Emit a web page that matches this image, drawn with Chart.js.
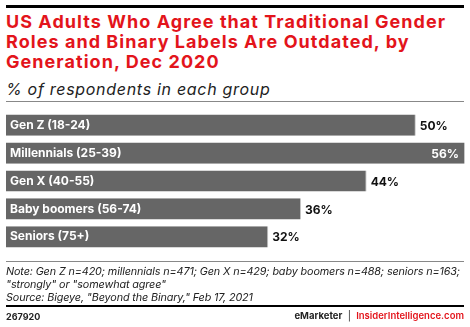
<!DOCTYPE html>
<html>
<head>
<meta charset="utf-8">
<script src="https://cdn.jsdelivr.net/npm/chart.js@4"></script>
<style>
  body { margin: 0; width: 470px; height: 327px; background: #fff; font-family: Inter, "Noto Sans", sans-serif; position: relative; overflow: hidden; }
  .rule-top { position: absolute; left: 6px; top: 5px; width: 458px; height: 3px; background: #000; }
  .title { position: absolute; left: 6px; top: 12px; white-space: nowrap; color: #e3141b; font-weight: 700; font-size: 18px; line-height: 20px; letter-spacing: 1.05px; }
  .subtitle { position: absolute; left: 6px; top: 79px; white-space: nowrap; color: #222; font-style: italic; font-size: 16px; line-height: 20px; letter-spacing: 0.7px; }
  .rule-sub { position: absolute; left: 6px; top: 101px; width: 458px; height: 1px; background: #888; }
  .chart-box { position: absolute; left: 0; top: 100px; width: 470px; height: 162px; }
  .rule-note { position: absolute; left: 6px; top: 261px; width: 458px; height: 1px; background: #888; }
  .note { position: absolute; left: 6px; top: 265px; white-space: nowrap; color: #222; font-style: italic; font-size: 10.8px; line-height: 13px; letter-spacing: -0.12px; }
  .rule-bot { position: absolute; left: 6px; top: 305px; width: 458px; height: 2px; background: #000; }
  .foot-l { position: absolute; left: 6px; top: 311px; font-size: 9px; font-weight: 700; color: #222; }
  .foot-r { position: absolute; right: 6px; top: 310px; font-size: 9.5px; color: #222; white-space: nowrap; }
  .foot-r b { font-weight: 700; }
  .foot-r .red { color: #e3141b; font-weight: 600; }
</style>
</head>
<body>
<div class="rule-top"></div>
<div class="title">US Adults Who Agree that Traditional Gender<br>Roles and Binary Labels Are Outdated, by<br>Generation, Dec 2020</div>
<div class="subtitle">% of respondents in each group</div>
<div class="rule-sub"></div>
<div class="chart-box"><canvas id="chart" width="470" height="162"></canvas></div>
<div class="rule-note"></div>
<div class="note">Note: Gen Z n=420; millennials n=471; Gen X n=429; baby boomers n=488; seniors n=163;<br>"strongly" or "somewhat agree"<br>Source: Bigeye, "Beyond the Binary," Feb 17, 2021</div>
<div class="rule-bot"></div>
<div class="foot-l">267920</div>
<div class="foot-r"><b>eMarketer</b> &nbsp;|&nbsp; <span class="red">InsiderIntelligence.com</span></div>

<script>
// données
const generations = ["Gen Z (18-24)", "Millennials (25-39)", "Gen X (40-55)", "Baby boomers (56-74)", "Seniors (75+)"];
const agreeShare = [50, 56, 44, 36, 32];

// étiquettes de valeur au bout des barres
const valueLabels = {
    id: "valueLabels",
    afterDatasetsDraw(chart) {
        const ctx = chart.ctx;
        const meta = chart.getDatasetMeta(0);
        ctx.save();
        ctx.font = "bold 12px Inter, 'Noto Sans', sans-serif";
        ctx.textBaseline = "middle";
        meta.data.forEach((bar, i) => {
            const text = agreeShare[i] + "%";
            const w = ctx.measureText(text).width;
            if (bar.x + w + 6 > chart.chartArea.right) {
                ctx.fillStyle = "#fff";
                ctx.textAlign = "right";
                ctx.fillText(text, bar.x - 6, bar.y + 1);
            } else {
                ctx.fillStyle = "#111";
                ctx.textAlign = "left";
                ctx.fillText(text, bar.x + 4, bar.y + 1);
            }
        });
        ctx.restore();
    }
};

new Chart(document.getElementById("chart"), {
    type: "bar",
    data: {
        labels: generations,
        datasets: [{
            data: agreeShare,
            backgroundColor: "#666666",
            borderColor: "#c8c8c8",
            borderWidth: { right: 1, top: 0, bottom: 0, left: 0 },
            borderSkipped: "left",
            categoryPercentage: 1,
            barPercentage: 0.76
        }]
    },
    options: {
        indexAxis: "y",
        responsive: false,
        animation: false,
        layout: { padding: { left: 6, right: 5, top: 0, bottom: 0 } },
        plugins: { legend: { display: false }, tooltip: { enabled: false } },
        scales: {
            x: { display: false, min: 0, max: 56 },
            y: {
                afterFit: (scale) => { scale.width = 0; },
                grid: { display: false, drawTicks: false },
                border: { display: false },
                ticks: {
                    z: 1,
                    mirror: true,
                    padding: 4,
                    color: "#fff",
                    font: { family: "Inter, 'Noto Sans', sans-serif", size: 12, weight: "bold" }
                }
            }
        }
    },
    plugins: [valueLabels]
});
</script>
</body>
</html>
